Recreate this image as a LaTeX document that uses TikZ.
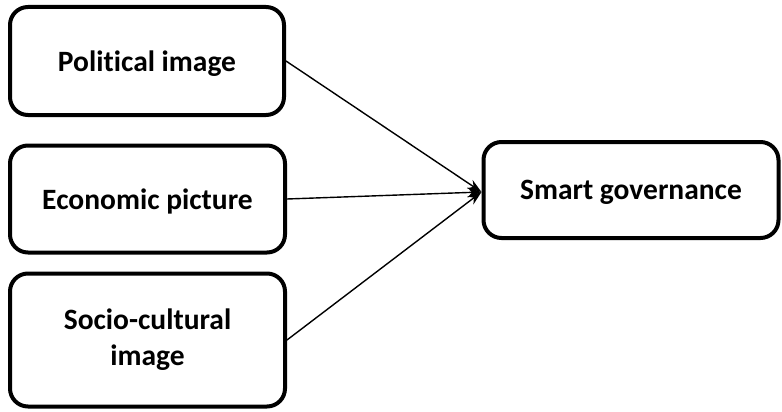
\documentclass[tikz,border=0pt]{standalone}
\usepackage{fontspec}
\setmainfont[RawFeature=-liga]{Carlito}
\usetikzlibrary{arrows.meta}
\begin{document}
\begin{tikzpicture}[x=1pt,y=-1pt,
  box/.style={draw, line width=4pt, rounded corners=18pt, align=center,
    font=\bfseries\fontsize{29.5}{36}\selectfont, inner sep=0pt},
  oneline/.style={text depth=0pt},
  link/.style={line width=1.4pt, -{Stealth[length=14pt,width=10pt]}}]
  \useasboundingbox (0,0) rectangle (782,412);
  \node[box, oneline, minimum width=274pt, minimum height=108pt] (pol) at (147,61) {Political image};
  \node[box, oneline, minimum width=275pt, minimum height=107pt] (eco) at (147.5,199) {Economic picture};
  \node[box, minimum width=275pt, minimum height=133pt] (soc) at (147.5,340) {Socio-cultural\\image};
  \node[box, oneline, minimum width=295pt, minimum height=96pt] (gov) at (631,190) {Smart governance};
  \coordinate (tip) at ([yshift=-2pt]gov.west);
  \draw[link] (pol.east) -- (tip);
  \draw[link] (eco.east) -- (tip);
  \draw[link] (soc.east) -- (tip);
\end{tikzpicture}
\end{document}
